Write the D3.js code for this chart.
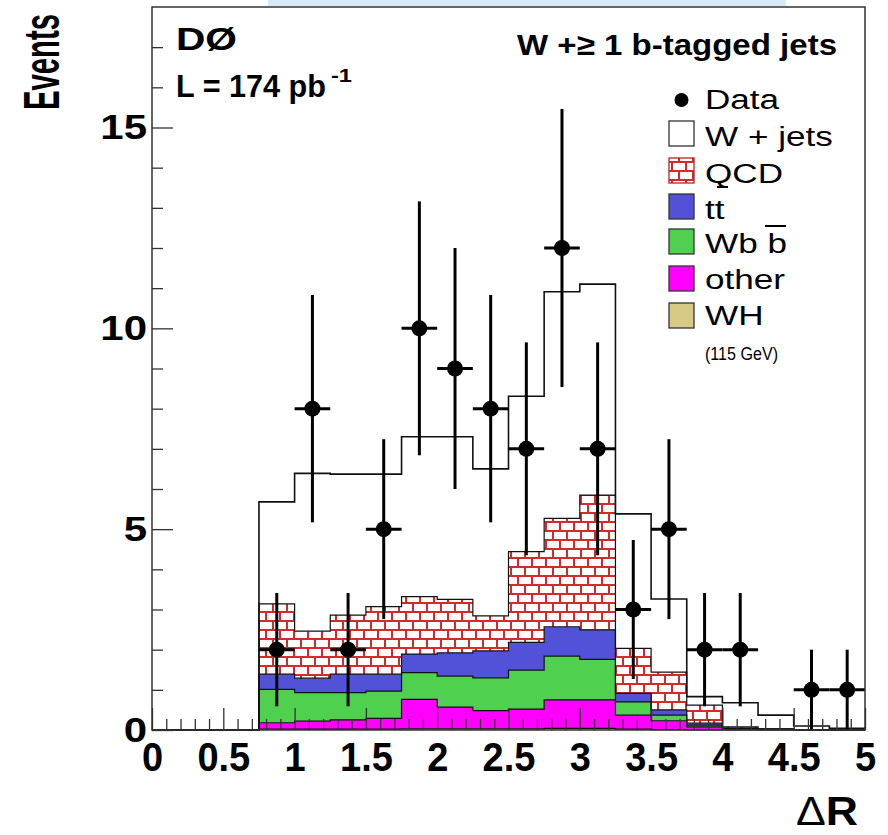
<!DOCTYPE html>
<html>
<head>
<meta charset="utf-8">
<script src="https://cdnjs.cloudflare.com/ajax/libs/d3/7.8.5/d3.min.js"></script>
<style>
    body { margin: 0; background: #fff; }
    svg { display: block; font-family: "Liberation Sans", Arial, Helvetica, sans-serif; }
</style>
</head>
<body>
<div id="chart"></div>
<script>
// bins of 0.25 in Delta R, low edges
const binLow = [0, 0.25, 0.5, 0.75, 1.0, 1.25, 1.5, 1.75, 2.0, 2.25, 2.5, 2.75, 3.0, 3.25, 3.5, 3.75, 4.0, 4.25, 4.5, 4.75];

// expected events per bin, one array per stacked process
const whEvents    = [0, 0, 0, 0.02, 0.02, 0.02, 0.02, 0.03, 0.03, 0.03, 0.03, 0.04, 0.04, 0.02, 0.01, 0, 0, 0, 0, 0];
const otherEvents = [0, 0, 0, 0.16, 0.20, 0.23, 0.27, 0.73, 0.54, 0.45, 0.49, 0.71, 0.71, 0.35, 0.22, 0.08, 0.03, 0.01, 0, 0];
const wbbEvents   = [0, 0, 0, 0.83, 0.71, 0.68, 0.68, 0.67, 0.77, 0.82, 0.97, 1.09, 1.01, 0.33, 0.14, 0.04, 0.01, 0.01, 0, 0];
const ttEvents    = [0, 0, 0, 0.38, 0.36, 0.46, 0.42, 0.46, 0.58, 0.67, 0.69, 0.73, 0.73, 0.21, 0.13, 0.05, 0.01, 0, 0.01, 0];
const qcdEvents   = [0, 0, 0, 1.75, 1.17, 1.47, 1.68, 1.43, 1.33, 0.87, 2.26, 2.70, 3.36, 1.12, 0.94, 0.45, 0.03, 0.01, 0, 0];
const wjetsEvents = [0, 0, 0, 2.54, 3.93, 3.51, 3.30, 3.98, 4.05, 3.66, 3.87, 5.64, 5.25, 3.35, 1.82, 0.21, 0.60, 0.34, 0.09, 0.04];

// observed data (bin centres)
const dataX   = [0.875, 1.125, 1.375, 1.625, 1.875, 2.125, 2.375, 2.625, 2.875, 3.125, 3.375, 3.625, 3.875, 4.125, 4.625, 4.875];
const dataY   = [2, 8, 2, 5, 10, 9, 8, 7, 12, 7, 3, 5, 2, 2, 1, 1];
const dataErr = [1.41, 2.83, 1.41, 2.24, 3.16, 3.0, 2.83, 2.65, 3.46, 2.65, 1.73, 2.24, 1.41, 1.41, 1.0, 1.0];

const xTickValues = [0, 0.5, 1, 1.5, 2, 2.5, 3, 3.5, 4, 4.5, 5];
const xTickLabels = ["0", "0.5", "1", "1.5", "2", "2.5", "3", "3.5", "4", "4.5", "5"];
const yTickValues = [0, 5, 10, 15];
const yTickLabels = ["0", "5", "10", "15"];

const legendLabels = ["Data", "W + jets", "QCD", "tt", "Wb b", "other", "WH"];

const width = 888;
const height = 835;
const frame = {left: 152, right: 865, top: 7, bottom: 730};
const binHalf = 0.125;

const x = d3.scaleLinear().domain([0, 5]).range([frame.left, frame.right]);
const y = d3.scaleLinear().domain([0, 18]).range([frame.bottom, frame.top]);

const seriesKeys = ["wh", "other", "wbb", "tt", "qcd", "wjets"];
const fills = {
    wh: "#d6ca86",
    other: "#ff00ff",
    wbb: "#4fd04f",
    tt: "#5252d8",
    qcd: "url(#brick)",
    wjets: "#ffffff"
};

// stretch text horizontally by a factor, or fit it to a width
function stretch(sel, fx) {
    sel.each(function () {
        const w = this.getComputedTextLength();
        d3.select(this).attr("textLength", w * fx).attr("lengthAdjust", "spacingAndGlyphs");
    });
}
function fit(sel, w) {
    sel.attr("textLength", w).attr("lengthAdjust", "spacingAndGlyphs");
}

const svg = d3.select("#chart").append("svg")
    .attr("width", width)
    .attr("height", height);

const pat = svg.append("defs").append("pattern")
    .attr("id", "brick")
    .attr("patternUnits", "userSpaceOnUse")
    .attr("width", 14)
    .attr("height", 18);
pat.append("rect").attr("width", 14).attr("height", 18).attr("fill", "#d42a2a");
[[1, 1], [-6, 10], [8, 10]].forEach(([bx, by]) => {
    pat.append("rect").attr("x", bx).attr("y", by).attr("width", 12).attr("height", 7).attr("fill", "#fff");
});

// light blue strip along the top edge of the scan
svg.append("rect")
    .attr("x", 268).attr("y", 0)
    .attr("width", 518).attr("height", 6)
    .attr("fill", "#d5ebfa");

const rows = binLow.map((b, i) => ({
    low: b,
    wh: whEvents[i],
    other: otherEvents[i],
    wbb: wbbEvents[i],
    tt: ttEvents[i],
    qcd: qcdEvents[i],
    wjets: wjetsEvents[i]
}));
const series = d3.stack().keys(seriesKeys)(rows);

const stepPoints = layer => {
    const pts = layer.map(d => ({x: d.data.low, y0: d[0], y1: d[1]}));
    const last = pts[pts.length - 1];
    pts.push({x: x.domain()[1], y0: last.y0, y1: last.y1});
    return pts;
};

const area = d3.area()
    .curve(d3.curveStepAfter)
    .x(d => x(d.x))
    .y0(d => y(d.y0))
    .y1(d => y(d.y1));

const topLine = d3.line()
    .curve(d3.curveStepAfter)
    .x(d => x(d.x))
    .y(d => y(d.y1));

svg.append("g")
    .selectAll("path")
    .data(series)
    .join("path")
    .attr("fill", d => fills[d.key])
    .attr("d", d => area(stepPoints(d)));

svg.append("g")
    .selectAll("path")
    .data(series)
    .join("path")
    .attr("fill", "none")
    .attr("stroke", "#111")
    .attr("stroke-width", d => d.key === "wjets" ? 1.6 : 1.2)
    .attr("d", d => topLine(stepPoints(d)));

// axes: ROOT style ticks pointing inwards
const tickStyle = g => g
    .call(g => g.select(".domain").remove())
    .call(g => g.selectAll(".tick line").attr("stroke", "#333").attr("stroke-width", 1.3));

const xMinor = d3.range(0, 50).map(i => i / 10).filter(v => !xTickValues.includes(v));
svg.append("g")
    .attr("transform", `translate(0,${frame.bottom})`)
    .call(d3.axisBottom(x).tickValues(xMinor).tickSize(-11).tickFormat(""))
    .call(tickStyle);

const xAxis = svg.append("g")
    .attr("transform", `translate(0,${frame.bottom})`)
    .call(d3.axisBottom(x).tickValues(xTickValues).tickSize(-22).tickPadding(13)
        .tickFormat((d, i) => xTickLabels[i]))
    .call(tickStyle);
xAxis.selectAll("text")
    .attr("fill", "#000")
    .attr("font-size", 40)
    .attr("font-weight", "bold")
    .call(stretch, 0.95);

const yMinor = d3.range(0, 18).filter(v => !yTickValues.includes(v));
svg.append("g")
    .attr("transform", `translate(${frame.left},0)`)
    .call(d3.axisLeft(y).tickValues(yMinor).tickSize(-11).tickFormat(""))
    .call(tickStyle);

const yAxis = svg.append("g")
    .attr("transform", `translate(${frame.left},0)`)
    .call(d3.axisLeft(y).tickValues(yTickValues).tickSize(-21).tickPadding(5)
        .tickFormat((d, i) => yTickLabels[i]))
    .call(tickStyle);
yAxis.selectAll("text")
    .attr("fill", "#000")
    .attr("font-size", 35)
    .attr("font-weight", "bold")
    .call(stretch, 1.2);

// data points with error bars
const pts = svg.append("g");
pts.selectAll("line.v")
    .data(dataX)
    .join("line")
    .attr("class", "v")
    .attr("x1", d => x(d)).attr("x2", d => x(d))
    .attr("y1", (d, i) => y(Math.max(0, dataY[i] - dataErr[i])))
    .attr("y2", (d, i) => y(dataY[i] + dataErr[i]))
    .attr("stroke", "#000").attr("stroke-width", 3);
pts.selectAll("line.h")
    .data(dataX)
    .join("line")
    .attr("class", "h")
    .attr("x1", d => x(d - binHalf)).attr("x2", d => x(d + binHalf))
    .attr("y1", (d, i) => y(dataY[i])).attr("y2", (d, i) => y(dataY[i]))
    .attr("stroke", "#000").attr("stroke-width", 3);
pts.selectAll("circle")
    .data(dataX)
    .join("circle")
    .attr("cx", d => x(d))
    .attr("cy", (d, i) => y(dataY[i]))
    .attr("r", 8)
    .attr("fill", "#000");

svg.append("rect")
    .attr("x", frame.left).attr("y", frame.top)
    .attr("width", frame.right - frame.left)
    .attr("height", frame.bottom - frame.top)
    .attr("fill", "none")
    .attr("stroke", "#333")
    .attr("stroke-width", 1.5);

// labels inside the frame
svg.append("text")
    .attr("x", 176).attr("y", 50)
    .attr("font-size", 32).attr("font-weight", "bold")
    .text("DØ")
    .call(fit, 61);
svg.append("text")
    .attr("x", 176).attr("y", 97)
    .attr("font-size", 31).attr("font-weight", "bold")
    .text("L = 174 pb")
    .call(fit, 150);
svg.append("text")
    .attr("x", 331).attr("y", 82)
    .attr("font-size", 18).attr("font-weight", "bold")
    .text("-1")
    .call(fit, 21);
svg.append("text")
    .attr("x", 517).attr("y", 55)
    .attr("font-size", 30).attr("font-weight", "bold")
    .text("W +≥ 1 b-tagged jets")
    .call(fit, 320);

// legend
const legendX = 669;
const legendText = 705;
const boxSize = 25;
const legendRows = [
    {key: "data", top: 88, base: 109},
    {key: "wjets", top: 121, base: 146},
    {key: "qcd", top: 158, base: 183},
    {key: "tt", top: 194, base: 219},
    {key: "wbb", top: 229, base: 253},
    {key: "other", top: 266, base: 289},
    {key: "wh", top: 303, base: 325}
];
const legend = svg.append("g");
legendRows.forEach((r, i) => {
    if (r.key === "data") {
        legend.append("circle")
            .attr("cx", legendX + boxSize / 2).attr("cy", r.top + 12)
            .attr("r", 7).attr("fill", "#000");
    } else {
        legend.append("rect")
            .attr("x", legendX).attr("y", r.top)
            .attr("width", boxSize).attr("height", boxSize)
            .attr("fill", fills[r.key])
            .attr("stroke", r.key === "qcd" ? "#b22" : "#333")
            .attr("stroke-width", 1.3);
    }
    legend.append("text")
        .attr("x", legendText).attr("y", r.base)
        .attr("font-size", 27)
        .text(legendLabels[i])
        .call(stretch, 1.3);
});
// bars of t-bar and b-bar sit above the second letter
legend.append("line")
    .attr("x1", 717).attr("x2", 728).attr("y1", 187).attr("y2", 187)
    .attr("stroke", "#000").attr("stroke-width", 2);
legend.append("line")
    .attr("x1", 765).attr("x2", 786).attr("y1", 226).attr("y2", 226)
    .attr("stroke", "#000").attr("stroke-width", 2);
legend.append("text")
    .attr("x", legendText).attr("y", 360)
    .attr("font-size", 18)
    .text("(115 GeV)")
    .call(fit, 73);

// axis titles; the y title is squeezed along its length with a scale
const yTitle = svg.append("text")
    .attr("font-size", 50).attr("font-weight", "bold")
    .text("Events");
const yTitleLen = yTitle.node().getComputedTextLength();
yTitle.attr("transform", `translate(59,110) rotate(-90) scale(${96 / yTitleLen},1)`);

const xTitle = svg.append("text")
    .attr("x", 858).attr("y", 825)
    .attr("text-anchor", "end")
    .attr("font-size", 41);
xTitle.append("tspan").attr("font-weight", "normal").text("Δ");
xTitle.append("tspan").attr("font-weight", "bold").text("R");
xTitle.call(fit, 62);
</script>
</body>
</html>
